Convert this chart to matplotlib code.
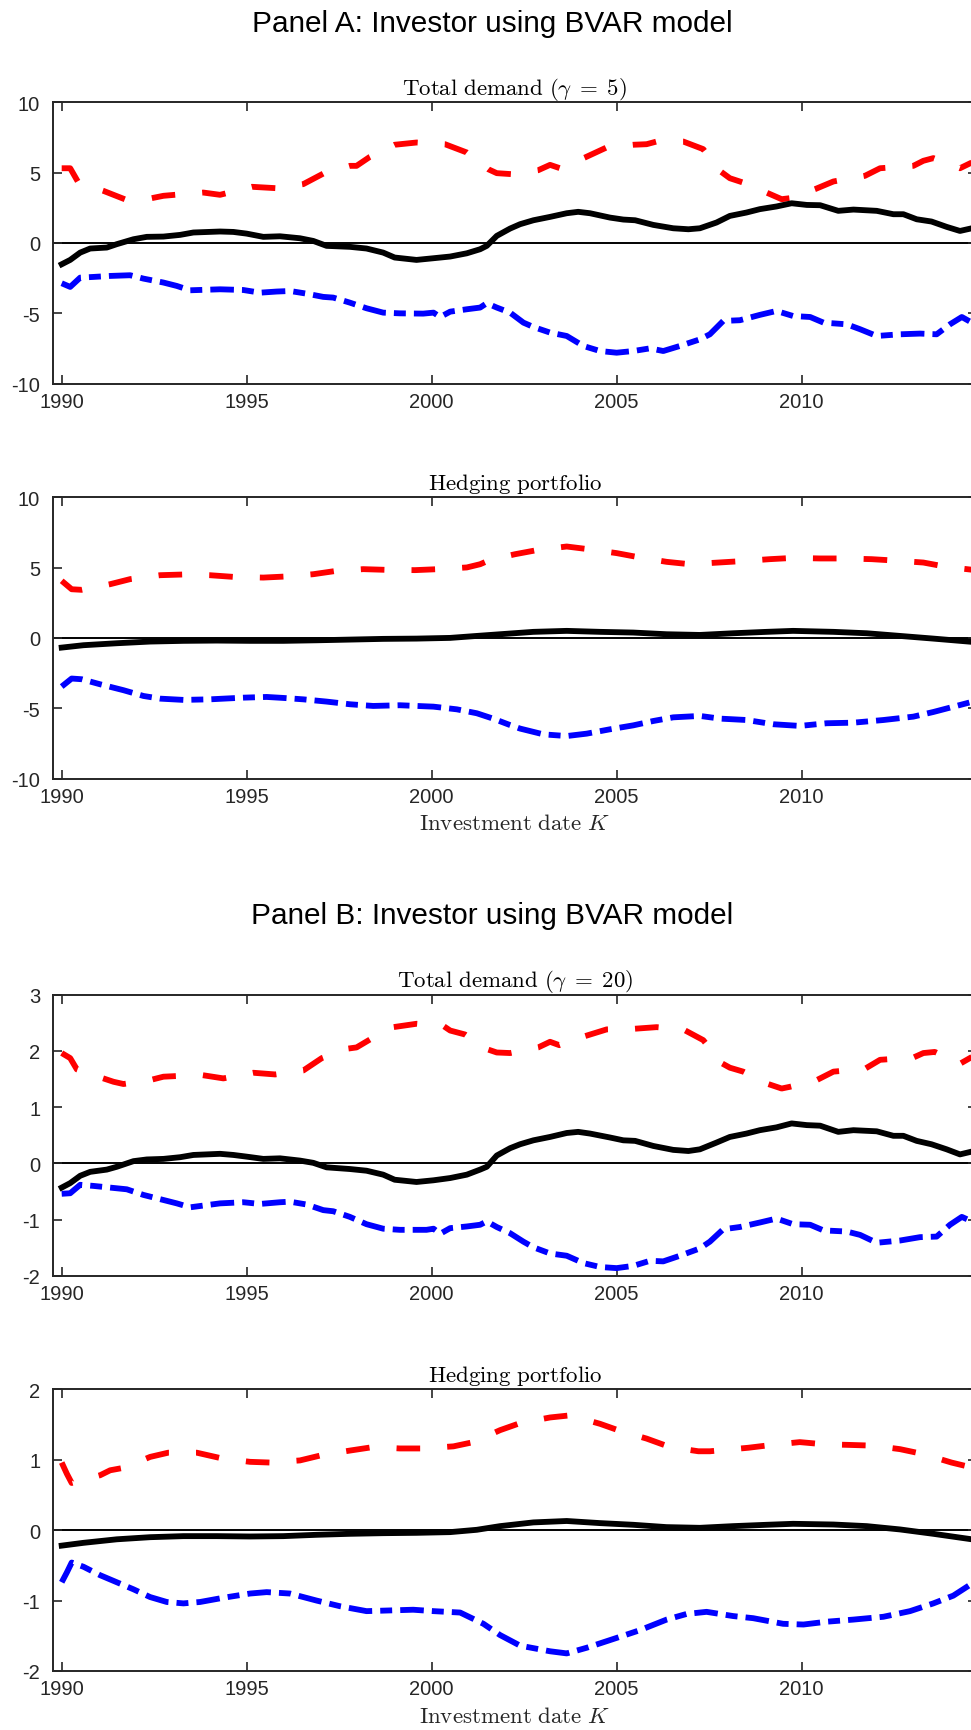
import matplotlib
matplotlib.use('Agg')
import matplotlib.pyplot as plt

plt.rcParams['mathtext.fontset'] = 'cm'
plt.rcParams['axes.unicode_minus'] = False
plt.rcParams['font.family'] = ['Liberation Sans', 'DejaVu Sans']
plt.rcParams['lines.scale_dashes'] = False

# ---------------- data ----------------
# Panel A, total demand (gamma = 5)
a_tot_upper_x = [1990.0, 1990.23, 1990.45, 1991.13, 1991.4, 1991.71, 1992.43, 1992.75, 1993.06, 1993.83,
                 1994.28, 1995.14, 1995.81, 1996.53, 1997.07, 1997.79, 1997.97, 1998.33, 1999.0, 1999.59,
                 2000.36, 2000.59, 2000.95, 2001.53, 2001.76, 2002.16, 2002.88, 2003.2, 2003.47, 2004.14,
                 2004.73, 2005.45, 2005.81, 2006.08, 2006.8, 2007.34, 2007.79, 2008.06, 2008.42, 2009.05,
                 2009.46, 2009.68, 2010.36, 2010.86, 2011.71, 2012.12, 2013.02, 2013.29, 2013.56, 2014.28,
                 2014.6]
a_tot_upper_y = [5.31, 5.31, 4.3, 3.70, 3.42, 3.1, 3.18, 3.35, 3.42, 3.58,
                 3.42, 3.99, 3.89, 4.18, 4.93, 5.48, 5.48, 6.12, 6.98, 7.14,
                 7.02, 6.79, 6.43, 5.24, 4.96, 4.89, 5.17, 5.55, 5.31, 6.07,
                 6.79, 6.98, 7.02, 7.21, 7.21, 6.67, 5.12, 4.6, 4.29, 3.58,
                 3.11, 3.18, 3.82, 4.37, 4.77, 5.31, 5.48, 5.84, 6.03, 5.31,
                 5.72]
tot_mid_x = [1990.0, 1990.23, 1990.5, 1990.77, 1991.22, 1991.49, 1991.94, 1992.3, 1992.75, 1993.2,
             1993.56, 1994.28, 1994.64, 1995.0, 1995.45, 1995.9, 1996.44, 1996.8, 1997.16, 1997.79,
             1998.24, 1998.69, 1999.0, 1999.59, 2000.05, 2000.5, 2000.95, 2001.31, 2001.49, 2001.76,
             2002.12, 2002.39, 2002.75, 2003.2, 2003.65, 2003.96, 2004.28, 2004.82, 2005.18, 2005.5,
             2005.99, 2006.53, 2006.94, 2007.25, 2007.7, 2008.06, 2008.51, 2008.87, 2009.32, 2009.73,
             2010.14, 2010.5, 2010.99, 2011.4, 2012.03, 2012.48, 2012.75, 2013.11, 2013.51, 2013.92,
             2014.28, 2014.6]
a_tot_mid_y = [-1.52, -1.21, -0.69, -0.40, -0.33, -0.09, 0.26, 0.43, 0.45, 0.57,
               0.74, 0.81, 0.78, 0.66, 0.43, 0.47, 0.33, 0.14, -0.21, -0.28,
               -0.40, -0.69, -1.04, -1.21, -1.09, -0.97, -0.74, -0.45, -0.21, 0.50,
               1.02, 1.33, 1.61, 1.85, 2.11, 2.21, 2.11, 1.80, 1.66, 1.61,
               1.28, 1.04, 0.97, 1.04, 1.45, 1.92, 2.16, 2.40, 2.59, 2.82,
               2.70, 2.68, 2.28, 2.37, 2.28, 2.04, 2.04, 1.68, 1.52, 1.14,
               0.85, 1.04]
a_tot_lower_x = [1990.0, 1990.23, 1990.5, 1990.86, 1991.31, 1991.85, 1992.21, 1992.75, 1993.11, 1993.47,
                 1994.28, 1994.91, 1995.36, 1995.81, 1996.17, 1996.62, 1997.07, 1997.34, 1997.79, 1998.24,
                 1998.69, 1999.14, 1999.77, 2000.05, 2000.23, 2000.5, 2000.95, 2001.31, 2001.49, 2001.76,
                 2002.12, 2002.48, 2002.75, 2003.2, 2003.65, 2004.1, 2004.55, 2005.0, 2005.45, 2005.9,
                 2006.26, 2006.71, 2007.25, 2007.52, 2007.88, 2008.33, 2008.87, 2009.32, 2009.77, 2010.23,
                 2010.59, 2011.22, 2011.58, 2012.03, 2012.66, 2013.2, 2013.65, 2014.01, 2014.33, 2014.6]
a_tot_lower_y = [-2.87, -3.13, -2.47, -2.42, -2.35, -2.30, -2.54, -2.82, -3.06, -3.37,
                 -3.30, -3.35, -3.54, -3.46, -3.42, -3.61, -3.84, -3.89, -4.25, -4.65,
                 -4.96, -5.01, -5.03, -4.96, -5.27, -4.89, -4.72, -4.60, -4.29, -4.60,
                 -4.96, -5.67, -5.98, -6.38, -6.62, -7.33, -7.69, -7.81, -7.69, -7.50,
                 -7.69, -7.33, -6.86, -6.50, -5.55, -5.50, -5.12, -4.84, -5.20, -5.27,
                 -5.67, -5.79, -6.14, -6.62, -6.50, -6.45, -6.50, -5.79, -5.27, -5.67]

# Panel A, hedging portfolio
a_hed_upper_x = [1990.0, 1990.27, 1990.54, 1991.31, 1991.85, 1992.66, 1993.29, 1994.0, 1994.64, 1995.45,
                 1996.08, 1996.8, 1997.43, 1998.15, 1998.78, 1999.55, 2000.18, 2000.95, 2001.31, 2001.58,
                 2002.25, 2002.88, 2003.65, 2004.23, 2005.0, 2005.63, 2006.35, 2006.98, 2007.75, 2008.38,
                 2009.14, 2009.77, 2010.5, 2011.17, 2011.89, 2012.52, 2013.29, 2013.92, 2014.6]
a_hed_upper_y = [4.06, 3.46, 3.42, 3.82, 4.18, 4.46, 4.51, 4.46, 4.34, 4.29,
                 4.37, 4.53, 4.77, 4.89, 4.84, 4.82, 4.89, 5.01, 5.24, 5.55,
                 5.95, 6.26, 6.50, 6.31, 6.03, 5.72, 5.41, 5.24, 5.36, 5.46,
                 5.60, 5.69, 5.65, 5.65, 5.60, 5.50, 5.36, 5.05, 4.85]
hed_mid_x = [1990.0, 1990.59, 1991.49, 1992.39, 1993.29, 1994.19, 1995.09, 1995.99, 1996.89, 1997.79,
             1998.69, 1999.59, 2000.5, 2001.22, 2001.85, 2002.75, 2003.65, 2004.55, 2005.45, 2006.35,
             2007.25, 2008.15, 2009.05, 2009.77, 2010.86, 2011.76, 2012.66, 2013.56, 2014.6]
a_hed_mid_y = [-0.69, -0.52, -0.38, -0.26, -0.21, -0.19, -0.21, -0.21, -0.17, -0.12,
               -0.07, -0.05, 0.0, 0.14, 0.26, 0.43, 0.50, 0.43, 0.38, 0.26,
               0.21, 0.33, 0.43, 0.50, 0.43, 0.33, 0.14, -0.05, -0.28]
a_hed_lower_x = [1990.0, 1990.27, 1990.54, 1991.04, 1991.67, 1992.21, 1992.66, 1993.29, 1994.0, 1994.91,
                 1995.54, 1995.99, 1996.53, 1997.16, 1997.79, 1998.42, 1999.14, 2000.05, 2000.68, 2001.22,
                 2001.67, 2002.12, 2002.39, 2003.02, 2003.65, 2004.19, 2004.82, 2005.45, 2005.99, 2006.53,
                 2007.25, 2007.79, 2008.51, 2009.23, 2009.95, 2010.68, 2011.4, 2012.21, 2013.02, 2013.56,
                 2014.01, 2014.6]
a_hed_lower_y = [-3.46, -2.89, -2.94, -3.30, -3.72, -4.13, -4.32, -4.41, -4.37, -4.25,
                 -4.20, -4.27, -4.37, -4.53, -4.72, -4.84, -4.79, -4.89, -5.08, -5.36,
                 -5.75, -6.20, -6.45, -6.86, -6.98, -6.81, -6.50, -6.22, -5.91, -5.65,
                 -5.55, -5.74, -5.84, -6.14, -6.26, -6.07, -6.03, -5.84, -5.60, -5.27,
                 -4.96, -4.55]

# Panel B, total demand (gamma = 20)
b_tot_upper_x = [1990.0, 1990.23, 1990.41, 1991.08, 1991.4, 1991.67, 1992.39, 1992.75, 1993.06, 1993.78,
                 1994.37, 1995.18, 1995.77, 1996.53, 1997.03, 1997.75, 1997.97, 1998.33, 1998.96, 1999.59,
                 2000.32, 2000.5, 2000.9, 2001.49, 2001.76, 2002.12, 2002.88, 2003.2, 2003.45, 2004.14,
                 2004.73, 2005.45, 2006.08, 2006.8, 2007.34, 2007.84, 2008.06, 2008.42, 2009.05, 2009.46,
                 2009.68, 2010.41, 2010.86, 2011.71, 2012.12, 2013.02, 2013.29, 2013.6, 2014.28, 2014.6]
b_tot_upper_y = [1.96, 1.87, 1.67, 1.52, 1.45, 1.41, 1.48, 1.54, 1.55, 1.57,
                 1.51, 1.61, 1.58, 1.65, 1.87, 2.04, 2.06, 2.20, 2.42, 2.48,
                 2.44, 2.36, 2.29, 2.03, 1.97, 1.96, 2.06, 2.16, 2.10, 2.26,
                 2.38, 2.39, 2.42, 2.38, 2.19, 1.78, 1.70, 1.63, 1.42, 1.33,
                 1.36, 1.48, 1.63, 1.68, 1.84, 1.88, 1.96, 1.98, 1.77, 1.89]
b_tot_mid_y = [-0.43, -0.35, -0.22, -0.15, -0.11, -0.06, 0.04, 0.07, 0.08, 0.11,
               0.15, 0.17, 0.15, 0.12, 0.08, 0.09, 0.05, 0.01, -0.07, -0.10,
               -0.13, -0.20, -0.29, -0.33, -0.30, -0.26, -0.20, -0.11, -0.06, 0.14,
               0.27, 0.34, 0.41, 0.47, 0.54, 0.56, 0.53, 0.46, 0.41, 0.40,
               0.31, 0.24, 0.22, 0.25, 0.37, 0.47, 0.53, 0.59, 0.64, 0.71,
               0.68, 0.67, 0.56, 0.59, 0.57, 0.49, 0.49, 0.40, 0.34, 0.25,
               0.16, 0.21]
b_tot_lower_x = [1990.0, 1990.23, 1990.5, 1990.86, 1991.31, 1991.76, 1992.21, 1992.75, 1993.11, 1993.47,
                 1994.28, 1994.91, 1995.36, 1995.9, 1996.17, 1996.62, 1997.07, 1997.34, 1997.79, 1998.24,
                 1998.69, 1999.14, 1999.86, 2000.05, 2000.23, 2000.5, 2000.95, 2001.31, 2001.49, 2001.76,
                 2002.12, 2002.48, 2002.75, 2003.2, 2003.65, 2004.1, 2004.55, 2005.0, 2005.45, 2005.9,
                 2006.26, 2006.71, 2007.25, 2007.52, 2007.88, 2008.33, 2008.87, 2009.32, 2009.77, 2010.23,
                 2010.59, 2011.22, 2011.58, 2012.03, 2012.66, 2013.2, 2013.65, 2014.01, 2014.33, 2014.6]
b_tot_lower_y = [-0.54, -0.53, -0.38, -0.40, -0.43, -0.46, -0.56, -0.65, -0.71, -0.78,
                 -0.71, -0.69, -0.72, -0.69, -0.68, -0.73, -0.83, -0.85, -0.95, -1.08,
                 -1.16, -1.18, -1.18, -1.16, -1.25, -1.15, -1.12, -1.09, -1.03, -1.13,
                 -1.24, -1.39, -1.49, -1.60, -1.64, -1.77, -1.84, -1.86, -1.82, -1.73,
                 -1.74, -1.64, -1.51, -1.39, -1.17, -1.13, -1.05, -0.98, -1.08, -1.09,
                 -1.19, -1.21, -1.27, -1.41, -1.37, -1.31, -1.30, -1.09, -0.95, -1.03]

# Panel B, hedging portfolio
b_hed_upper_x = [1990.0, 1990.14, 1990.27, 1991.04, 1991.31, 1991.62, 1992.03, 1992.39, 1992.88, 1993.65,
                 1994.32, 1995.09, 1995.63, 1996.44, 1997.07, 1997.79, 1998.42, 1999.14, 1999.77, 2000.59,
                 2001.13, 2001.85, 2002.39, 2003.2, 2003.74, 2004.55, 2005.09, 2005.81, 2006.44, 2007.21,
                 2007.52, 2008.56, 2009.19, 2009.95, 2010.59, 2011.31, 2011.94, 2012.66, 2013.29, 2014.05,
                 2014.6]
b_hed_upper_y = [0.96, 0.80, 0.67, 0.78, 0.85, 0.88, 0.96, 1.04, 1.10, 1.10,
                 1.02, 0.97, 0.96, 0.99, 1.07, 1.13, 1.18, 1.16, 1.16, 1.19,
                 1.25, 1.42, 1.52, 1.60, 1.63, 1.51, 1.41, 1.30, 1.18, 1.12,
                 1.12, 1.17, 1.21, 1.25, 1.22, 1.21, 1.20, 1.15, 1.08, 0.96,
                 0.89]
b_hed_mid_y = [-0.22, -0.18, -0.13, -0.10, -0.085, -0.085, -0.09, -0.085, -0.066, -0.052,
               -0.043, -0.038, -0.028, 0.005, 0.057, 0.11, 0.13, 0.10, 0.076, 0.043,
               0.033, 0.057, 0.076, 0.09, 0.08, 0.057, 0.01, -0.052, -0.13]
b_hed_lower_x = [1990.0, 1990.14, 1990.27, 1990.59, 1991.04, 1991.49, 1991.94, 1992.39, 1992.84, 1993.29,
                 1993.74, 1994.37, 1995.09, 1995.54, 1996.17, 1996.89, 1997.52, 1998.24, 1998.87, 1999.5,
                 2000.05, 2000.77, 2001.4, 2001.85, 2002.39, 2003.2, 2003.65, 2004.19, 2005.0, 2005.63,
                 2006.35, 2006.89, 2007.43, 2008.15, 2008.69, 2009.5, 2010.05, 2010.68, 2011.4, 2012.21,
                 2012.93, 2013.56, 2014.1, 2014.6]
b_hed_lower_y = [-0.74, -0.60, -0.46, -0.52, -0.64, -0.74, -0.84, -0.95, -1.02, -1.04,
                 -1.02, -0.96, -0.90, -0.88, -0.90, -1.00, -1.08, -1.15, -1.14, -1.13,
                 -1.15, -1.17, -1.33, -1.49, -1.64, -1.72, -1.75, -1.67, -1.53, -1.42,
                 -1.27, -1.19, -1.16, -1.22, -1.25, -1.33, -1.34, -1.30, -1.27, -1.23,
                 -1.15, -1.04, -0.93, -0.76]

x_ticks = [1990, 1995, 2000, 2005, 2010]
yticks_a = [-10, -5, 0, 5, 10]
yticks_b_tot = [-2, -1, 0, 1, 2, 3]
yticks_b_hed = [-2, -1, 0, 1, 2]

panel_titles = ['Panel A: Investor using BVAR model', 'Panel B: Investor using BVAR model']
sub_titles = [r'$\mathrm{Total\ demand}\ (\gamma \;=\; 5)$', r'$\mathrm{Hedging\ portfolio}$',
              r'$\mathrm{Total\ demand}\ (\gamma \;=\; 20)$', r'$\mathrm{Hedging\ portfolio}$']
x_label = r'$\mathrm{Investment\ date}\ K$'

# ---------------- styling ----------------
W, H = 971, 1731
fig = plt.figure(figsize=(W / 100, H / 100), dpi=100)
AX_COL = '#262626'
LW = 4.2
RED_STYLE = (0, (17, 19.5))
BLUE_STYLE = (0, (17, 5.8, 8.6, 5.8))
X_LEFT, X_RIGHT = 1989.757, 2014.74
left_px, right_px = 52.7, 977.0


def make_axes(top_px, bottom_px):
    return fig.add_axes([left_px / W, 1 - bottom_px / H,
                         (right_px - left_px) / W, (bottom_px - top_px) / H])


def style(ax, ylim, yticks, title, xlabel=None):
    ax.set_xlim(X_LEFT, X_RIGHT)
    ax.set_ylim(*ylim)
    ax.set_xticks(x_ticks)
    ax.set_yticks(yticks)
    ax.set_xticklabels([str(t) for t in x_ticks])
    ax.set_yticklabels([str(t) for t in yticks])
    ax.tick_params(direction='in', length=6.5, width=1.2, color=AX_COL,
                   labelcolor=AX_COL, labelsize=14.5, top=True, right=True)
    ax.tick_params(axis='x', pad=6)
    ax.tick_params(axis='y', pad=9)
    for s in ax.spines.values():
        s.set_linewidth(1.4)
        s.set_color(AX_COL)
    ax.set_title(title, fontsize=16.5, pad=6, color='black')
    if xlabel:
        ax.set_xlabel(xlabel, fontsize=16.5, labelpad=4, color=AX_COL)


def draw(ax, ux, uy, mx, my, lx, ly):
    ax.axhline(0, color='black', lw=1.4, zorder=1)
    ax.plot(ux, uy, color='#ff0000', lw=LW, linestyle=RED_STYLE, zorder=2)
    ax.plot(mx, my, color='black', lw=LW, zorder=3)
    ax.plot(lx, ly, color='#0000ff', lw=LW, linestyle=BLUE_STYLE, zorder=2)


ax1 = make_axes(103.3, 384.5)
draw(ax1, a_tot_upper_x, a_tot_upper_y, tot_mid_x, a_tot_mid_y, a_tot_lower_x, a_tot_lower_y)
style(ax1, (-10, 10), yticks_a, sub_titles[0])

ax2 = make_axes(498.3, 779.5)
draw(ax2, a_hed_upper_x, a_hed_upper_y, hed_mid_x, a_hed_mid_y, a_hed_lower_x, a_hed_lower_y)
style(ax2, (-10, 10), yticks_a, sub_titles[1], x_label)

ax3 = make_axes(995.5, 1277.0)
draw(ax3, b_tot_upper_x, b_tot_upper_y, tot_mid_x, b_tot_mid_y, b_tot_lower_x, b_tot_lower_y)
style(ax3, (-2, 3), yticks_b_tot, sub_titles[2])

ax4 = make_axes(1390.3, 1672.0)
draw(ax4, b_hed_upper_x, b_hed_upper_y, hed_mid_x, b_hed_mid_y, b_hed_lower_x, b_hed_lower_y)
style(ax4, (-2, 2), yticks_b_hed, sub_titles[3], x_label)

fig.text(492 / W, 1 - 32.3 / H, panel_titles[0], ha='center', va='baseline', fontsize=21.4, color='black')
fig.text(492 / W, 1 - 924 / H, panel_titles[1], ha='center', va='baseline', fontsize=21.4, color='black')

fig.savefig('out.png', dpi=100, facecolor='white')
